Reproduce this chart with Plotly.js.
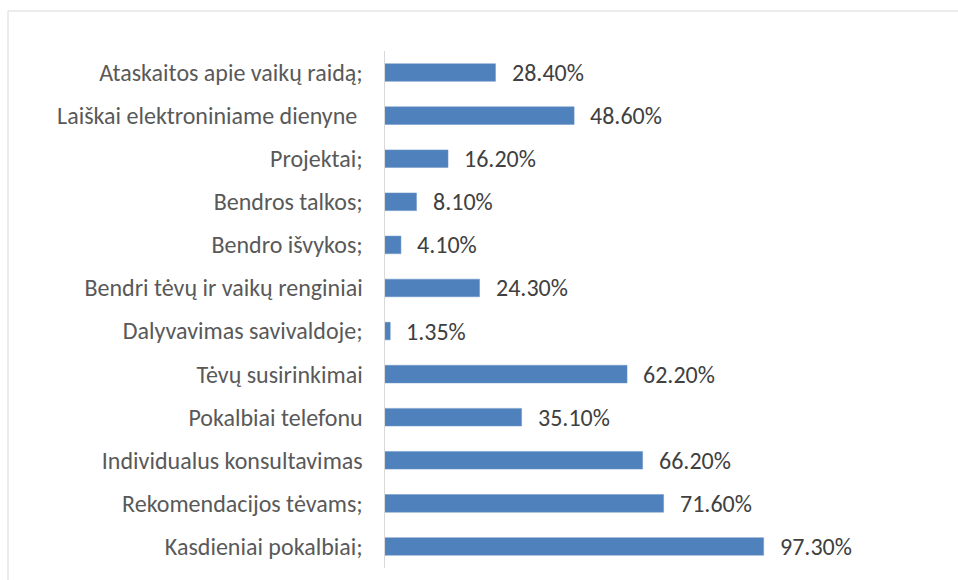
<!DOCTYPE html>
<html><head><meta charset="utf-8">
<script src="https://cdn.plot.ly/plotly-3.0.1.min.js"></script>
<style>html,body{margin:0;padding:0;background:#fff;}</style>
</head><body>
<div id="chart" style="width:958px;height:580px;"></div>
<script>
const categories = [
  "Ataskaitos apie vaikų raidą;",
  "Laiškai elektroniniame dienyne\u00a0",
  "Projektai;",
  "Bendros talkos;",
  "Bendro išvykos;",
  "Bendri tėvų ir vaikų renginiai",
  "Dalyvavimas savivaldoje;",
  "Tėvų susirinkimai",
  "Pokalbiai telefonu",
  "Individualus konsultavimas",
  "Rekomendacijos tėvams;",
  "Kasdieniai pokalbiai;"
];
const values = [28.40, 48.60, 16.20, 8.10, 4.10, 24.30, 1.35, 62.20, 35.10, 66.20, 71.60, 97.30];
const valueLabels = ["28.40%", "48.60%", "16.20%", "8.10%", "4.10%", "24.30%", "1.35%", "62.20%", "35.10%", "66.20%", "71.60%", "97.30%"];

const FONT = "Carlito, Calibri, Lato, sans-serif";

const trace = {
  type: "bar",
  orientation: "h",
  y: categories,
  x: values,
  width: 0.41,
  marker: {color: "#4f81bd", line: {color: "#6f97c9", width: 0.5}},
  hoverinfo: "none"
};

const annotations = categories.map((c, i) => ({
  x: values[i], y: c, xref: "x", yref: "y",
  text: valueLabels[i], showarrow: false,
  xanchor: "left", yanchor: "middle", xshift: 14,
  font: {family: FONT, size: 24, color: "#404040"}
}));

const layout = {
  width: 958, height: 580,
  margin: {l: 385, r: 106, t: 51, b: 12, pad: 0},
  paper_bgcolor: "#ffffff", plot_bgcolor: "#ffffff",
  showlegend: false,
  xaxis: {range: [0, 120], showgrid: false, zeroline: false, showline: false, showticklabels: false, ticks: ""},
  yaxis: {
    autorange: "reversed", type: "category",
    showgrid: false, zeroline: false,
    showline: true, linecolor: "#d9d9d9", linewidth: 1.5,
    ticks: "", ticklabelstandoff: 16,
    tickfont: {family: FONT, size: 24, color: "#595959"}
  },
  annotations: annotations,
  shapes: [{
    type: "rect", xref: "paper", yref: "paper",
    x0: (8 - 385) / 467, x1: (1000 - 385) / 467,
    y0: -0.2, y1: (568 - 11) / 517,
    line: {color: "#d9d9d9", width: 1}, fillcolor: "rgba(0,0,0,0)", layer: "below"
  }]
};

Plotly.newPlot("chart", [trace], layout, {displayModeBar: false, staticPlot: true});
</script>
</body></html>
